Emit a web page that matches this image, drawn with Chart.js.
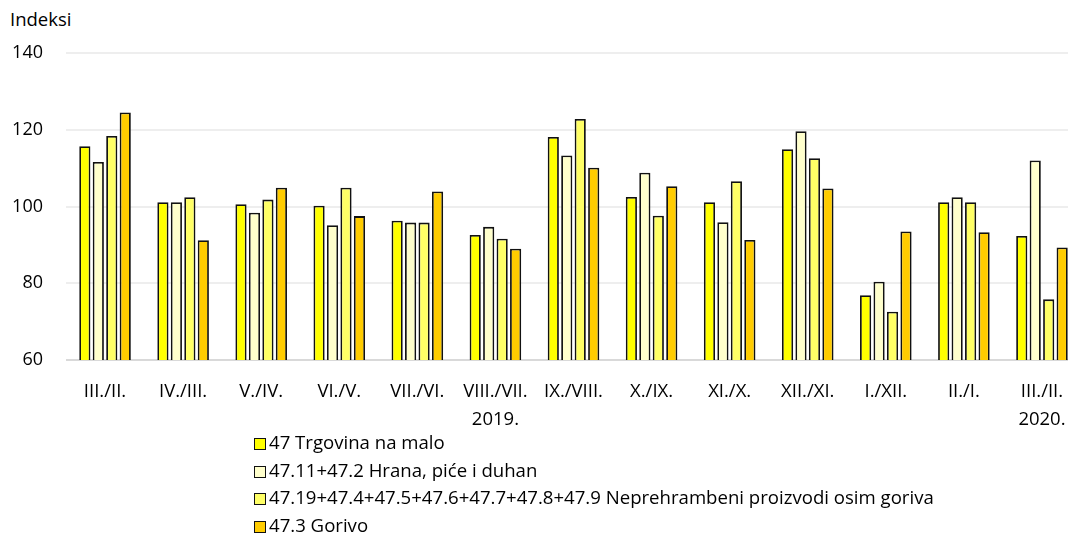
<!DOCTYPE html>
<html>
<head>
<meta charset="utf-8">
<script src="https://cdn.jsdelivr.net/npm/chart.js@4.4.1/dist/chart.umd.min.js"></script>
<style>
    body { margin: 0; overflow: hidden; background: #fff; font-family: "Open Sans", sans-serif; }
    #wrap { position: absolute; left: 0; top: 0; width: 1081px; height: 430px; }
    #yTitle { position: absolute; left: 10px; top: 6px; font-size: 18.5px; color: #000; }
    #legend { position: absolute; left: 254px; top: 428px; font-size: 18.6px; color: #000; }
    #legend div { height: 27.7px; line-height: 27.7px; white-space: nowrap; }
    #legend span { display: inline-block; width: 10px; height: 10px; border: 1.5px solid #111; margin-right: 3px; vertical-align: -1px; }
</style>
</head>
<body>
<div id="yTitle">Indeksi</div>
<div id="wrap"><canvas id="chart"></canvas></div>
<div id="legend"></div>
<script>
var categories = ['III./II.', 'IV./III.', 'V./IV.', 'VI./V.', 'VII./VI.', ['VIII./VII.', '2019.'],
    'IX./VIII.', 'X./IX.', 'XI./X.', 'XII./XI.', 'I./XII.', 'II./I.', ['III./II.', '2020.']];

var seriesNames = [
    '47 Trgovina na malo',
    '47.11+47.2 Hrana, piće i duhan',
    '47.19+47.4+47.5+47.6+47.7+47.8+47.9 Neprehrambeni proizvodi osim goriva',
    '47.3 Gorivo'
];

var retail   = [115.7, 101.1, 100.6, 100.2, 96.3, 92.6, 118.1, 102.5, 101.1, 114.9, 76.9, 101.1, 92.3];
var food     = [111.6, 101.1, 98.4, 95.1, 95.8, 94.7, 113.3, 108.8, 95.9, 119.6, 80.4, 102.4, 112.0];
var nonFood  = [118.4, 102.4, 101.8, 104.9, 95.8, 91.6, 122.8, 97.6, 106.6, 112.6, 72.6, 101.1, 75.8];
var fuel     = [124.5, 91.2, 104.9, 97.5, 103.9, 89.0, 110.1, 105.3, 91.3, 104.7, 93.5, 93.3, 89.3];

var yTicks = [60, 80, 100, 120, 140];

var colors = ['#ffff00', '#ffffcc', '#ffff66', '#ffcc00'];
var seriesData = [retail, food, nonFood, fuel];

var ctx = document.getElementById('chart').getContext('2d');

var datasets = seriesNames.map(function (name, i) {
    return {
        label: name,
        data: seriesData[i],
        backgroundColor: colors[i],
        borderColor: '#111',
        borderWidth: 1.8,
        categoryPercentage: 0.69,
        barPercentage: 0.83
    };
});

window.indexChart = new Chart(ctx, {
    type: 'bar',
    data: { labels: categories, datasets: datasets },
    options: {
        responsive: true,
        maintainAspectRatio: false,
        animation: false,
        layout: { padding: { top: 53, left: 0, right: 0, bottom: 0 } },
        plugins: {
            legend: { display: false },
            tooltip: { enabled: false }
        },
        scales: {
            x: {
                grid: { display: false },
                border: { display: false },
                ticks: {
                    color: '#000',
                    font: { family: 'Open Sans', size: 18.5, lineHeight: 1.49 },
                    padding: 10,
                    maxRotation: 0,
                    autoSkip: false
                },
                afterFit: function (scale) { scale.height = 70; }
            },
            y: {
                min: 60,
                max: 140,
                afterBuildTicks: function (scale) {
                    scale.ticks = yTicks.map(function (v) { return { value: v }; });
                },
                grid: {
                    drawTicks: false,
                    lineWidth: 2,
                    color: function (c) { return c.tick && c.tick.value === 60 ? '#d9d9d9' : '#eeeeee'; }
                },
                border: { display: false },
                ticks: {
                    color: '#000',
                    font: { family: 'Open Sans', size: 18 },
                    padding: 23
                },
                afterFit: function (scale) { scale.width = 66; }
            }
        }
    }
});

// legend as a vertical list, built from the datasets
var legendEl = document.getElementById('legend');
window.indexChart.data.datasets.forEach(function (ds) {
    var row = document.createElement('div');
    var box = document.createElement('span');
    box.style.background = ds.backgroundColor;
    row.appendChild(box);
    row.appendChild(document.createTextNode(ds.label));
    legendEl.appendChild(row);
});
</script>
</body>
</html>
